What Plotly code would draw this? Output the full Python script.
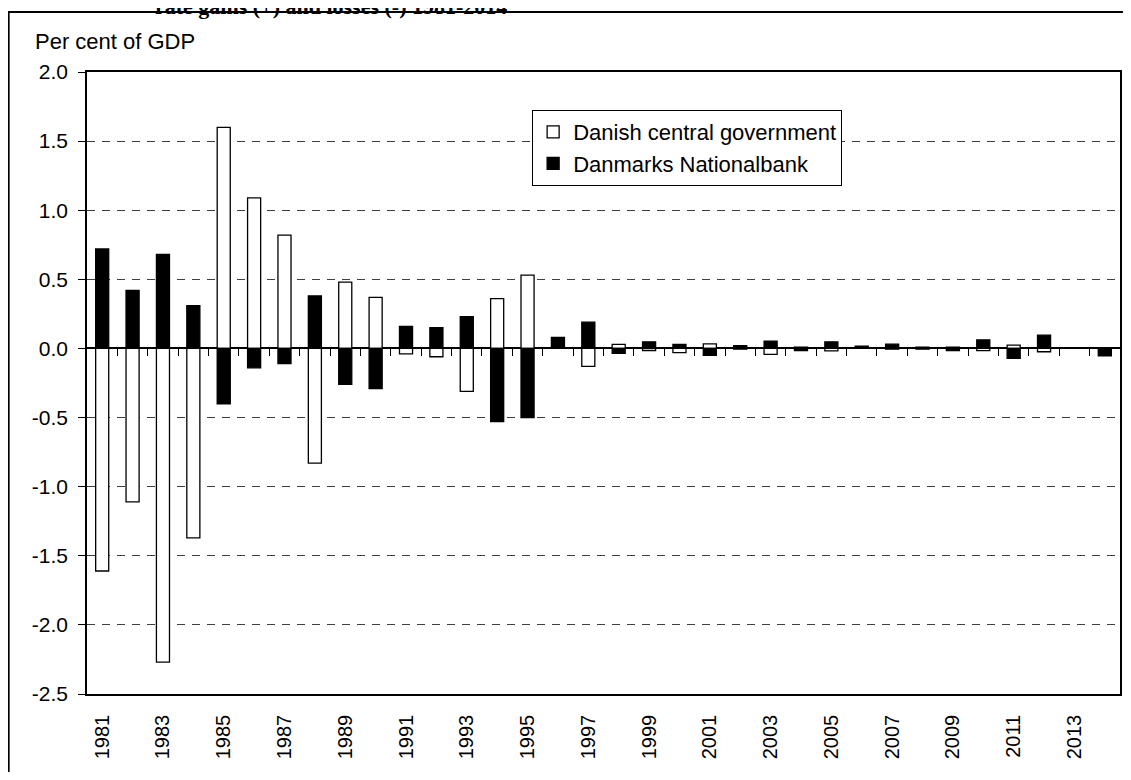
import plotly.graph_objects as go

# ---------------- data ----------------
years = list(range(1981, 2015))
gov_values = [-1.61, -1.11, -2.27, -1.37, 1.60, 1.09, 0.82, -0.83, 0.48, 0.37,
              -0.04, -0.06, -0.31, 0.36, 0.53, 0.0, -0.13, 0.03, -0.015, -0.03,
              0.033, -0.005, -0.043, 0.01, -0.017, 0.0, -0.005, -0.005, 0.01, -0.016,
              0.024, -0.024, 0.0, 0.005]
nb_values = [0.72, 0.42, 0.68, 0.31, -0.40, -0.14, -0.11, 0.38, -0.26, -0.29,
             0.16, 0.15, 0.23, -0.53, -0.50, 0.08, 0.19, -0.035, 0.048, 0.03,
             -0.05, 0.02, 0.053, -0.015, 0.048, 0.017, 0.031, 0.01, -0.015, 0.062,
             -0.072, 0.096, 0.0, -0.053]
series_names = ["Danish central government", "Danmarks Nationalbank"]
x_label_years = list(range(1981, 2014, 2))
x_labels = [str(y) for y in x_label_years]
y_tick_values = [-2.5, -2.0, -1.5, -1.0, -0.5, 0.0, 0.5, 1.0, 1.5, 2.0]
y_tick_labels = ["-2.5", "-2.0", "-1.5", "-1.0", "-0.5", "0.0", "0.5", "1.0", "1.5", "2.0"]
y_title = "Per cent of GDP"
title_line = "rate gains (+) and losses (-) 1981-2014"

# ---------------- layout geometry ----------------
# The page body has an 8px default margin, so the figure is placed at (8, 8).
OFF = 8
W, H = 1115, 764
# plot area in screen pixels: left 87, right 1122, top 72, bottom 694
ML = 87 - OFF
MT = 72 - OFF
MR = W - (1122 - OFF)
MB = H - (694 - OFF)
PW, PH = W - ML - MR, H - MT - MB
YMIN, YMAX = -2.5, 2.0


def px_x(sx):
    """screen x -> paper x"""
    return (sx - OFF - ML) / PW


def px_y(sy):
    """screen y -> paper y"""
    return (H - MB - (sy - OFF)) / PH


FONT = "Liberation Sans, Arial, sans-serif"

fig = go.Figure()
fig.add_trace(go.Bar(x=years, y=gov_values, name=series_names[0],
                     marker=dict(color="white", line=dict(color="black", width=1.3)),
                     legendgroup="a"))
fig.add_trace(go.Bar(x=years, y=nb_values, name=series_names[1],
                     marker=dict(color="black", line=dict(color="black", width=1.3)),
                     legendgroup="b"))
# invisible helper trace so the zero-crossing tick axis is drawn
fig.add_trace(go.Scatter(x=years, y=nb_values, xaxis="x2", mode="markers",
                         marker=dict(opacity=0, size=1), showlegend=False,
                         hoverinfo="skip"))

xr = [years[0] - 0.5, years[-1] + 0.5]
boundaries = [y + 0.5 for y in years[:-1]]

fig.update_layout(
    width=W, height=H,
    margin=dict(l=ML, r=MR, t=MT, b=MB, pad=0),
    paper_bgcolor="white", plot_bgcolor="white",
    barmode="overlay", bargap=0.57,
    font=dict(family=FONT, size=20, color="black"),
    showlegend=True,
    legend=dict(x=px_x(533), y=px_y(110), xanchor="left", yanchor="top",
                bgcolor="white", bordercolor="black", borderwidth=1,
                font=dict(family=FONT, size=22, color="black"),
                traceorder="grouped", tracegroupgap=0),
    xaxis=dict(range=xr, tickmode="array", tickvals=x_label_years, ticktext=x_labels,
               tickangle=-90, ticks="", showgrid=False, zeroline=False,
               showline=True, linecolor="black", linewidth=1.5, mirror=True,
               tickfont=dict(family=FONT, size=20, color="black"),
               ticklabelstandoff=11),
    xaxis2=dict(range=xr, overlaying="x", anchor="free",
                position=(0 - YMIN) / (YMAX - YMIN),
                tickmode="array", tickvals=boundaries, ticks="outside", ticklen=7,
                tickwidth=1, tickcolor="black", showticklabels=False,
                showgrid=False, zeroline=False, showline=False),
    yaxis=dict(range=[YMIN, YMAX], tickmode="array", tickvals=y_tick_values,
               ticktext=y_tick_labels, ticks="outside", ticklen=7, tickwidth=1,
               tickcolor="black", showgrid=True, gridcolor="#404040", gridwidth=1,
               griddash="8px,7px", zeroline=True, zerolinecolor="black",
               zerolinewidth=1.5, showline=True, linecolor="black", linewidth=1.5,
               mirror=True, tickfont=dict(family=FONT, size=21, color="black"),
               ticklabelstandoff=6),
    annotations=[
        dict(text=y_title, xref="paper", yref="paper", x=px_x(33), y=px_y(41.5),
             xanchor="left", yanchor="middle", showarrow=False,
             font=dict(family=FONT, size=22, color="black")),
        dict(text="<b>" + title_line + "</b>", xref="paper", yref="paper",
             x=px_x(153), y=px_y(21), xanchor="left", yanchor="bottom",
             showarrow=False,
             font=dict(family="Liberation Serif, Times New Roman, serif", size=22,
                       color="black")),
    ],
    shapes=[
        dict(type="rect", xref="paper", yref="paper",
             x0=px_x(8.5), x1=px_x(1160), y0=px_y(820), y1=px_y(12),
             line=dict(color="black", width=2), fillcolor="rgba(0,0,0,0)",
             layer="above"),
    ],
)

fig.write_html("out.html")
